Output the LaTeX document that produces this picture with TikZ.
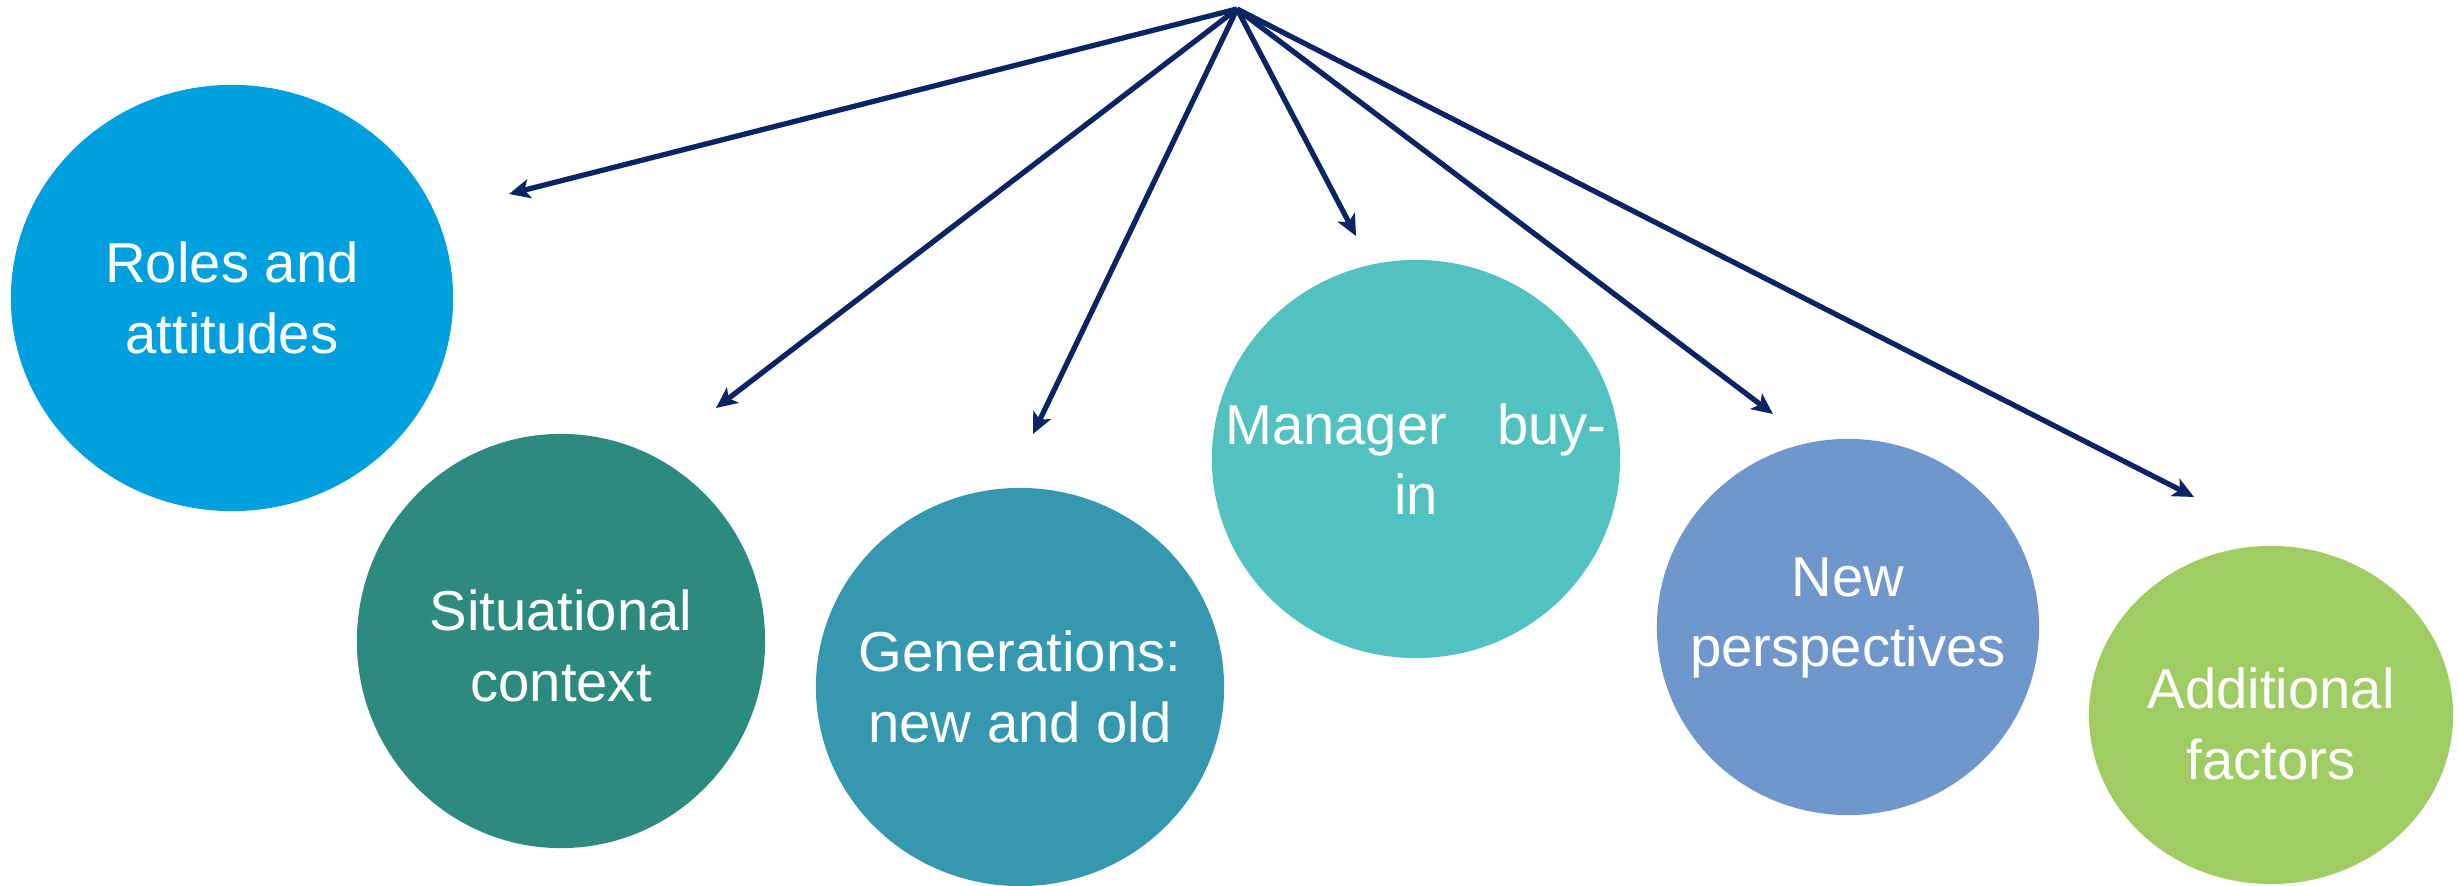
\documentclass[tikz,border=0pt]{standalone}
\usepackage{fontspec}
\setmainfont{Liberation Sans}
\usepackage{tikz}
\usepackage{xcolor}
\usetikzlibrary{arrows.meta, shapes.geometric, positioning}

\definecolor{rolescol}{HTML}{00A0DF}
\definecolor{contextcol}{HTML}{2C8A7E}
\definecolor{gencol}{HTML}{3598AE}
\definecolor{managercol}{HTML}{52C2C0}
\definecolor{perspcol}{HTML}{7097CB}
\definecolor{factorcol}{HTML}{A0CC64}
\definecolor{linkcol}{HTML}{0B2463}

\begin{document}
\begin{tikzpicture}[x=0.01cm, y=-0.01cm,
    bubble/.style={ellipse, inner sep=0pt},
    caption/.style={inner sep=0pt, text=white, align=center,
        font=\fontsize{16}{20}\selectfont},
    link/.style={draw=linkcol, line width=1.5pt,
        -{Stealth[length=6pt, width=5.5pt, inset=1.5pt]}}]
    \useasboundingbox (0,0) rectangle (2458,885);

    % the six factors
    \node[bubble, fill=rolescol, minimum width=4.42cm, minimum height=4.26cm] (roles) at (232,298) {};
    \node[bubble, fill=contextcol, minimum width=4.08cm, minimum height=4.14cm] (context) at (561,641) {};
    \node[bubble, fill=gencol, minimum width=4.08cm, minimum height=3.98cm] (generations) at (1020,687) {};
    \node[bubble, fill=managercol, minimum width=4.08cm, minimum height=3.98cm] (manager) at (1416,459) {};
    \node[bubble, fill=perspcol, minimum width=3.82cm, minimum height=3.76cm] (perspectives) at (1848,627) {};
    \node[bubble, fill=factorcol, minimum width=3.64cm, minimum height=3.38cm] (factors) at (2271,715) {};

    \node[caption] (roles text) at (roles) {Roles and\\attitudes};
    \node[caption, yshift=-0.05cm] (context text) at (context) {Situational\\context};
    \node[caption] (generations text) at (generations) {Generations:\\new and old};
    \node[caption] (manager text) at (manager) {Manager\hspace{0.5cm}buy-\\in};
    \node[caption, yshift=0.09cm] (perspectives text) at (perspectives) {New\\perspectives};
    \node[caption, yshift=-0.09cm] (factors text) at (factors) {Additional\\factors};

    % fan of arrows from the top point
    \coordinate (hub) at (1237,9);
    \coordinate (toroles) at (509,194);
    \coordinate (tocontext) at (716,408);
    \coordinate (togen) at (1033,434);
    \coordinate (tomanager) at (1356,236);
    \coordinate (topersp) at (1773,414);
    \coordinate (tofactors) at (2194,497);
    \draw[link] (hub) -- (toroles);
    \draw[link] (hub) -- (tocontext);
    \draw[link] (hub) -- (togen);
    \draw[link] (hub) -- (tomanager);
    \draw[link] (hub) -- (topersp);
    \draw[link] (hub) -- (tofactors);
\end{tikzpicture}
\end{document}
